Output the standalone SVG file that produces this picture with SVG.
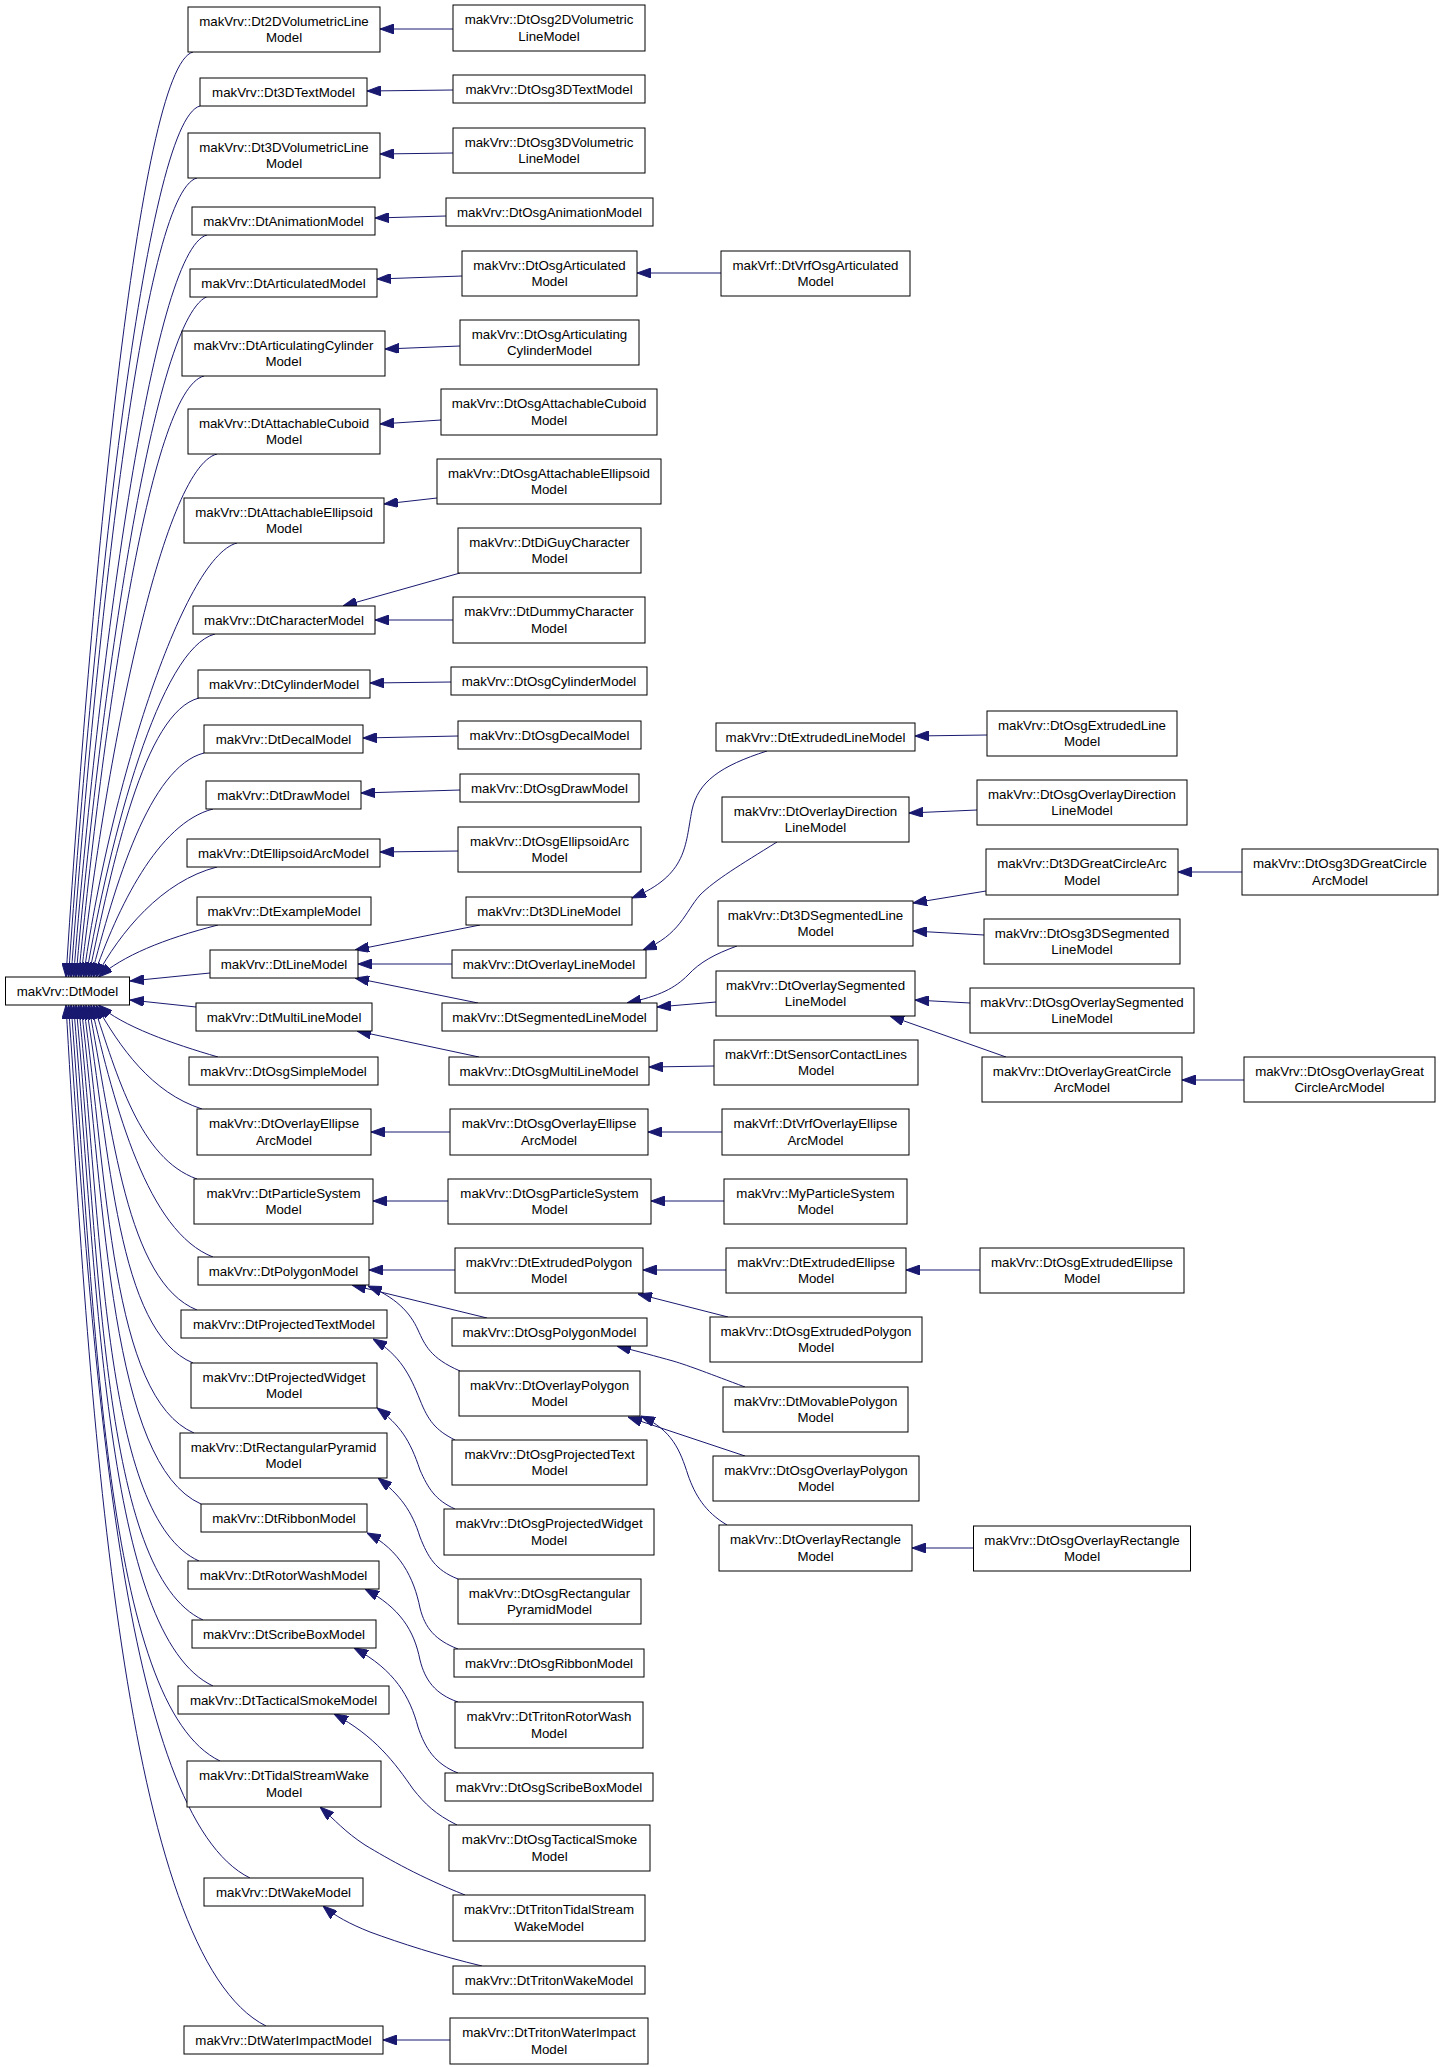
<svg xmlns="http://www.w3.org/2000/svg" width="1445" height="2067" viewBox="0 0 1445 2067">
<style>
.n rect{fill:#fff;stroke:#000;stroke-width:1}
.n text{font-family:"Liberation Sans",Arial,Helvetica,sans-serif;font-size:13.3px;text-anchor:middle;fill:#000}
.e path{fill:none;stroke:#191970;stroke-width:1;marker-end:url(#a)}
</style>
<defs>
<marker id="a" viewBox="0 0 14 10" markerWidth="14" markerHeight="10" markerUnits="userSpaceOnUse" refX="14" refY="5" orient="auto">
<path d="M0,0 L14,5 L0,10 z" fill="#191970" stroke="#191970" stroke-width="1"/>
</marker>
</defs>
<rect width="1445" height="2067" fill="#fff"/>
<g id="edges" class="e">
<path d="M193,52 C138,66 90,598 66,977"/>
<path d="M200,106 C145,120 92.5,620 68.5,977"/>
<path d="M197,178 C142,192 95,649 71,977"/>
<path d="M207,235 C152,249 97.5,673 73.5,977"/>
<path d="M209,296 C154,310 100,698 76,977"/>
<path d="M204,376 C149,390 102.5,731 78.5,977"/>
<path d="M217,454 C162,468 105,763 81,977"/>
<path d="M237,543 C182,557 107.5,799 83.5,977"/>
<path d="M215,634 C160,648 110,836 86,977"/>
<path d="M199,698 C144,712 112.5,863 88.5,977"/>
<path d="M204,753 C149,767 115,885 91,977"/>
<path d="M213,809 C158,823 117.5,908 93.5,977"/>
<path d="M217,867 C162,881 120,932 96,977"/>
<path d="M218,925 C163,939 122.5,956 98.5,977"/>
<path d="M266,2026 C124,1955 90,1424 66,1005"/>
<path d="M250,1878 C122.7,1815.6 92.5,1363 68.5,1005"/>
<path d="M220,1761 C104.4,1705.6 95,1315 71,1005"/>
<path d="M213,1686 C104.9,1635.1 97.5,1284 73.5,1005"/>
<path d="M203,1620 C101.5,1573.1 100,1257 76,1005"/>
<path d="M199,1561 C103.4,1517.6 102.5,1233 78.5,1005"/>
<path d="M201,1504 C111.1,1464.1 105,1209.6 81,1005"/>
<path d="M194,1433 C111.2,1397.3 107.5,1180.5 83.5,1005"/>
<path d="M193,1363 C117.2,1331.5 110,1151.8 86,1005"/>
<path d="M197,1310 C126.5,1281.7 112.5,1130 88.5,1005"/>
<path d="M213,1257 C147.8,1231.9 115,1108.3 91,1005"/>
<path d="M197,1179 C139.6,1158.6 117.5,1076.3 93.5,1005"/>
<path d="M202,1109 C151.6,1092.8 120,1047.6 96,1005"/>
<path d="M218,1057 C172.8,1043.9 122.5,1026.3 98.5,1005"/>
<path d="M210,973 L130,981"/>
<path d="M196,1007 L130,1000"/>
<path d="M453,29 L380,29"/>
<path d="M453,90 L367,91"/>
<path d="M453,153 L380,154"/>
<path d="M446,216 L375,218"/>
<path d="M462,276 L377,279"/>
<path d="M721,273 L637,273"/>
<path d="M460,346 L385,349"/>
<path d="M441,420 L380,424"/>
<path d="M437,498 L384,504"/>
<path d="M460,573 L343,606"/>
<path d="M453,620 L375,620"/>
<path d="M451,682 L370,683"/>
<path d="M458,736 L363,738"/>
<path d="M460,790 L361,793"/>
<path d="M458,851 L380,852"/>
<path d="M480,925 L355,950"/>
<path d="M452,964 L358,964"/>
<path d="M478,1003 L355,978"/>
<path d="M479,1057 L357,1031"/>
<path d="M767,751 C720,766 698,782 692,810 C685,845 688,875 632,898"/>
<path d="M777,842 C740,865 715,880 700,895 C685,912 680,935 643,950"/>
<path d="M737,946 C715,954 700,962 688,975 C675,988 660,996 627,1003"/>
<path d="M716,1002 L657,1007"/>
<path d="M1006,1057 L890,1016"/>
<path d="M970,1003 L915,1000"/>
<path d="M987,735 L915,736"/>
<path d="M977,810 L909,813"/>
<path d="M986,891 L913,903"/>
<path d="M984,935 L913,931"/>
<path d="M1242,872 L1178,872"/>
<path d="M1244,1080 L1182,1080"/>
<path d="M714,1066 L649,1067"/>
<path d="M450,1132 L371,1132"/>
<path d="M722,1132 L648,1132"/>
<path d="M448,1201 L373,1201"/>
<path d="M724,1201 L651,1201"/>
<path d="M455,1270 L369,1270"/>
<path d="M726,1270 L643,1270"/>
<path d="M980,1270 L906,1270"/>
<path d="M487,1318 L352,1285"/>
<path d="M460,1371 C430,1358 425,1345 418,1330 C410,1312 395,1297 368,1286"/>
<path d="M728,1317 L638,1294"/>
<path d="M745,1387 C710,1374 690,1366 673,1361 C655,1356 640,1352 617,1346"/>
<path d="M745,1456 L628,1417"/>
<path d="M727,1525 C705,1512 695,1495 688,1475 C680,1450 672,1430 641,1416"/>
<path d="M973.5,1548 L912,1548"/>
<path d="M455,1440 C435,1430 428,1420 420,1400 C410,1375 400,1355 373,1339"/>
<path d="M455,1509 C435,1500 428,1488 420,1470 C410,1440 400,1425 377,1408"/>
<path d="M458,1579 C435,1570 428,1557 420,1537 C412,1511 400,1495 378,1478"/>
<path d="M458,1649 C435,1640 425,1628 420,1608 C414,1578 400,1550 367,1533"/>
<path d="M458,1702 C435,1694 425,1680 420,1660 C414,1630 400,1608 365,1589"/>
<path d="M458,1773 C435,1764 425,1748 418,1727 C410,1697 395,1670 354,1648"/>
<path d="M457,1825 C435,1814 425,1804 413,1789 C395,1763 375,1736 334,1714"/>
<path d="M465,1895 C420,1877 390,1860 365,1845 C345,1832 335,1820 320,1807"/>
<path d="M482,1966 C440,1956 400,1943 370,1932 C350,1924 335,1916 323,1906"/>
<path d="M450,2040 L383,2040"/>
</g>
<g id="n0" class="n"><rect x="5.5" y="977" width="124" height="28"/><text x="67.5" y="995.5">makVrv::DtModel</text></g>
<g id="b1" class="n"><rect x="188" y="7" width="192" height="45"/><text x="284" y="25.5">makVrv::Dt2DVolumetricLine</text><text x="284" y="42">Model</text></g>
<g id="b2" class="n"><rect x="200" y="78" width="167" height="28"/><text x="283.5" y="96.5">makVrv::Dt3DTextModel</text></g>
<g id="b3" class="n"><rect x="188" y="133" width="192" height="45"/><text x="284" y="151.5">makVrv::Dt3DVolumetricLine</text><text x="284" y="168">Model</text></g>
<g id="b4" class="n"><rect x="192" y="207" width="183" height="28"/><text x="283.5" y="225.5">makVrv::DtAnimationModel</text></g>
<g id="b5" class="n"><rect x="190" y="269" width="187" height="28"/><text x="283.5" y="287.5">makVrv::DtArticulatedModel</text></g>
<g id="b6" class="n"><rect x="182" y="331" width="203" height="45"/><text x="283.5" y="349.5">makVrv::DtArticulatingCylinder</text><text x="283.5" y="366">Model</text></g>
<g id="b7" class="n"><rect x="188" y="409" width="192" height="45"/><text x="284" y="427.5">makVrv::DtAttachableCuboid</text><text x="284" y="444">Model</text></g>
<g id="b8" class="n"><rect x="184" y="498" width="200" height="45"/><text x="284" y="516.5">makVrv::DtAttachableEllipsoid</text><text x="284" y="533">Model</text></g>
<g id="b9" class="n"><rect x="193" y="606" width="182" height="28"/><text x="284" y="624.5">makVrv::DtCharacterModel</text></g>
<g id="b10" class="n"><rect x="198" y="670" width="172" height="28"/><text x="284" y="688.5">makVrv::DtCylinderModel</text></g>
<g id="b11" class="n"><rect x="204" y="725" width="159" height="28"/><text x="283.5" y="743.5">makVrv::DtDecalModel</text></g>
<g id="b12" class="n"><rect x="206" y="781" width="155" height="28"/><text x="283.5" y="799.5">makVrv::DtDrawModel</text></g>
<g id="b13" class="n"><rect x="187" y="839" width="193" height="28"/><text x="283.5" y="857.5">makVrv::DtEllipsoidArcModel</text></g>
<g id="b14" class="n"><rect x="197" y="897" width="174" height="28"/><text x="284" y="915.5">makVrv::DtExampleModel</text></g>
<g id="b15" class="n"><rect x="210" y="950" width="148" height="28"/><text x="284" y="968.5">makVrv::DtLineModel</text></g>
<g id="b16" class="n"><rect x="196" y="1003" width="176" height="28"/><text x="284" y="1021.5">makVrv::DtMultiLineModel</text></g>
<g id="b17" class="n"><rect x="189" y="1057" width="189" height="28"/><text x="283.5" y="1075.5">makVrv::DtOsgSimpleModel</text></g>
<g id="b18" class="n"><rect x="197" y="1109" width="174" height="46"/><text x="284" y="1128">makVrv::DtOverlayEllipse</text><text x="284" y="1144.5">ArcModel</text></g>
<g id="b19" class="n"><rect x="194" y="1179" width="179" height="45"/><text x="283.5" y="1197.5">makVrv::DtParticleSystem</text><text x="283.5" y="1214">Model</text></g>
<g id="b20" class="n"><rect x="198" y="1257" width="171" height="28"/><text x="283.5" y="1275.5">makVrv::DtPolygonModel</text></g>
<g id="b21" class="n"><rect x="181" y="1310" width="206" height="28"/><text x="284" y="1328.5">makVrv::DtProjectedTextModel</text></g>
<g id="b22" class="n"><rect x="191" y="1363" width="186" height="45"/><text x="284" y="1381.5">makVrv::DtProjectedWidget</text><text x="284" y="1398">Model</text></g>
<g id="b23" class="n"><rect x="180" y="1433" width="207" height="45"/><text x="283.5" y="1451.5">makVrv::DtRectangularPyramid</text><text x="283.5" y="1468">Model</text></g>
<g id="b24" class="n"><rect x="201" y="1504" width="166" height="28"/><text x="284" y="1522.5">makVrv::DtRibbonModel</text></g>
<g id="b25" class="n"><rect x="188" y="1561" width="191" height="28"/><text x="283.5" y="1579.5">makVrv::DtRotorWashModel</text></g>
<g id="b26" class="n"><rect x="192" y="1620" width="184" height="28"/><text x="284" y="1638.5">makVrv::DtScribeBoxModel</text></g>
<g id="b27" class="n"><rect x="178" y="1686" width="211" height="28"/><text x="283.5" y="1704.5">makVrv::DtTacticalSmokeModel</text></g>
<g id="b28" class="n"><rect x="187" y="1761" width="194" height="46"/><text x="284" y="1780">makVrv::DtTidalStreamWake</text><text x="284" y="1796.5">Model</text></g>
<g id="b29" class="n"><rect x="204" y="1878" width="159" height="28"/><text x="283.5" y="1896.5">makVrv::DtWakeModel</text></g>
<g id="b30" class="n"><rect x="184" y="2026" width="199" height="28"/><text x="283.5" y="2044.5">makVrv::DtWaterImpactModel</text></g>
<g id="c1" class="n"><rect x="453" y="5" width="192" height="46"/><text x="549" y="24">makVrv::DtOsg2DVolumetric</text><text x="549" y="40.5">LineModel</text></g>
<g id="c2" class="n"><rect x="453" y="75" width="192" height="28"/><text x="549" y="93.5">makVrv::DtOsg3DTextModel</text></g>
<g id="c3" class="n"><rect x="453" y="128" width="192" height="45"/><text x="549" y="146.5">makVrv::DtOsg3DVolumetric</text><text x="549" y="163">LineModel</text></g>
<g id="c4" class="n"><rect x="446" y="198" width="207" height="28"/><text x="549.5" y="216.5">makVrv::DtOsgAnimationModel</text></g>
<g id="c5" class="n"><rect x="462" y="251" width="175" height="45"/><text x="549.5" y="269.5">makVrv::DtOsgArticulated</text><text x="549.5" y="286">Model</text></g>
<g id="c6" class="n"><rect x="460" y="320" width="179" height="45"/><text x="549.5" y="338.5">makVrv::DtOsgArticulating</text><text x="549.5" y="355">CylinderModel</text></g>
<g id="c7" class="n"><rect x="441" y="389" width="216" height="46"/><text x="549" y="408">makVrv::DtOsgAttachableCuboid</text><text x="549" y="424.5">Model</text></g>
<g id="c8" class="n"><rect x="437" y="459" width="224" height="45"/><text x="549" y="477.5">makVrv::DtOsgAttachableEllipsoid</text><text x="549" y="494">Model</text></g>
<g id="c9" class="n"><rect x="458" y="528" width="183" height="45"/><text x="549.5" y="546.5">makVrv::DtDiGuyCharacter</text><text x="549.5" y="563">Model</text></g>
<g id="c10" class="n"><rect x="453" y="597" width="192" height="46"/><text x="549" y="616">makVrv::DtDummyCharacter</text><text x="549" y="632.5">Model</text></g>
<g id="c11" class="n"><rect x="451" y="667" width="196" height="28"/><text x="549" y="685.5">makVrv::DtOsgCylinderModel</text></g>
<g id="c12" class="n"><rect x="458" y="721" width="183" height="28"/><text x="549.5" y="739.5">makVrv::DtOsgDecalModel</text></g>
<g id="c13" class="n"><rect x="460" y="774" width="179" height="28"/><text x="549.5" y="792.5">makVrv::DtOsgDrawModel</text></g>
<g id="c14" class="n"><rect x="458" y="827" width="183" height="45"/><text x="549.5" y="845.5">makVrv::DtOsgEllipsoidArc</text><text x="549.5" y="862">Model</text></g>
<g id="c15" class="n"><rect x="466" y="897" width="166" height="28"/><text x="549" y="915.5">makVrv::Dt3DLineModel</text></g>
<g id="c16" class="n"><rect x="452" y="950" width="194" height="28"/><text x="549" y="968.5">makVrv::DtOverlayLineModel</text></g>
<g id="c17" class="n"><rect x="442" y="1003" width="215" height="28"/><text x="549.5" y="1021.5">makVrv::DtSegmentedLineModel</text></g>
<g id="c18" class="n"><rect x="449" y="1057" width="200" height="28"/><text x="549" y="1075.5">makVrv::DtOsgMultiLineModel</text></g>
<g id="c19" class="n"><rect x="450" y="1109" width="198" height="46"/><text x="549" y="1128">makVrv::DtOsgOverlayEllipse</text><text x="549" y="1144.5">ArcModel</text></g>
<g id="c20" class="n"><rect x="448" y="1179" width="203" height="45"/><text x="549.5" y="1197.5">makVrv::DtOsgParticleSystem</text><text x="549.5" y="1214">Model</text></g>
<g id="c21" class="n"><rect x="455" y="1248" width="188" height="45"/><text x="549" y="1266.5">makVrv::DtExtrudedPolygon</text><text x="549" y="1283">Model</text></g>
<g id="c22" class="n"><rect x="452" y="1318" width="195" height="28"/><text x="549.5" y="1336.5">makVrv::DtOsgPolygonModel</text></g>
<g id="c23" class="n"><rect x="459" y="1371" width="181" height="45"/><text x="549.5" y="1389.5">makVrv::DtOverlayPolygon</text><text x="549.5" y="1406">Model</text></g>
<g id="c24" class="n"><rect x="452" y="1440" width="195" height="45"/><text x="549.5" y="1458.5">makVrv::DtOsgProjectedText</text><text x="549.5" y="1475">Model</text></g>
<g id="c25" class="n"><rect x="444" y="1509" width="210" height="46"/><text x="549" y="1528">makVrv::DtOsgProjectedWidget</text><text x="549" y="1544.5">Model</text></g>
<g id="c26" class="n"><rect x="458" y="1579" width="183" height="45"/><text x="549.5" y="1597.5">makVrv::DtOsgRectangular</text><text x="549.5" y="1614">PyramidModel</text></g>
<g id="c27" class="n"><rect x="454" y="1649" width="190" height="28"/><text x="549" y="1667.5">makVrv::DtOsgRibbonModel</text></g>
<g id="c28" class="n"><rect x="455" y="1702" width="188" height="46"/><text x="549" y="1721">makVrv::DtTritonRotorWash</text><text x="549" y="1737.5">Model</text></g>
<g id="c29" class="n"><rect x="445" y="1773" width="208" height="28"/><text x="549" y="1791.5">makVrv::DtOsgScribeBoxModel</text></g>
<g id="c30" class="n"><rect x="449" y="1825" width="201" height="46"/><text x="549.5" y="1844">makVrv::DtOsgTacticalSmoke</text><text x="549.5" y="1860.5">Model</text></g>
<g id="c31" class="n"><rect x="453" y="1895" width="192" height="46"/><text x="549" y="1914">makVrv::DtTritonTidalStream</text><text x="549" y="1930.5">WakeModel</text></g>
<g id="c32" class="n"><rect x="453" y="1966" width="192" height="28"/><text x="549" y="1984.5">makVrv::DtTritonWakeModel</text></g>
<g id="c33" class="n"><rect x="450" y="2018" width="198" height="46"/><text x="549" y="2037">makVrv::DtTritonWaterImpact</text><text x="549" y="2053.5">Model</text></g>
<g id="d1" class="n"><rect x="721" y="251" width="189" height="45"/><text x="815.5" y="269.5">makVrf::DtVrfOsgArticulated</text><text x="815.5" y="286">Model</text></g>
<g id="d2" class="n"><rect x="716" y="723" width="199" height="28"/><text x="815.5" y="741.5">makVrv::DtExtrudedLineModel</text></g>
<g id="d3" class="n"><rect x="722" y="797" width="187" height="45"/><text x="815.5" y="815.5">makVrv::DtOverlayDirection</text><text x="815.5" y="832">LineModel</text></g>
<g id="d4" class="n"><rect x="718" y="901" width="195" height="45"/><text x="815.5" y="919.5">makVrv::Dt3DSegmentedLine</text><text x="815.5" y="936">Model</text></g>
<g id="d5" class="n"><rect x="716" y="971" width="199" height="45"/><text x="815.5" y="989.5">makVrv::DtOverlaySegmented</text><text x="815.5" y="1006">LineModel</text></g>
<g id="d6" class="n"><rect x="714" y="1040" width="204" height="45"/><text x="816" y="1058.5">makVrf::DtSensorContactLines</text><text x="816" y="1075">Model</text></g>
<g id="d7" class="n"><rect x="722" y="1109" width="187" height="46"/><text x="815.5" y="1128">makVrf::DtVrfOverlayEllipse</text><text x="815.5" y="1144.5">ArcModel</text></g>
<g id="d8" class="n"><rect x="724" y="1179" width="183" height="45"/><text x="815.5" y="1197.5">makVrv::MyParticleSystem</text><text x="815.5" y="1214">Model</text></g>
<g id="d9" class="n"><rect x="726" y="1248" width="180" height="45"/><text x="816" y="1266.5">makVrv::DtExtrudedEllipse</text><text x="816" y="1283">Model</text></g>
<g id="d10" class="n"><rect x="710" y="1317" width="212" height="45"/><text x="816" y="1335.5">makVrv::DtOsgExtrudedPolygon</text><text x="816" y="1352">Model</text></g>
<g id="d11" class="n"><rect x="723" y="1387" width="185" height="45"/><text x="815.5" y="1405.5">makVrv::DtMovablePolygon</text><text x="815.5" y="1422">Model</text></g>
<g id="d12" class="n"><rect x="713" y="1456" width="206" height="45"/><text x="816" y="1474.5">makVrv::DtOsgOverlayPolygon</text><text x="816" y="1491">Model</text></g>
<g id="d13" class="n"><rect x="719" y="1525" width="193" height="46"/><text x="815.5" y="1544">makVrv::DtOverlayRectangle</text><text x="815.5" y="1560.5">Model</text></g>
<g id="e1" class="n"><rect x="987" y="711" width="190" height="45"/><text x="1082" y="729.5">makVrv::DtOsgExtrudedLine</text><text x="1082" y="746">Model</text></g>
<g id="e2" class="n"><rect x="977" y="780" width="210" height="45"/><text x="1082" y="798.5">makVrv::DtOsgOverlayDirection</text><text x="1082" y="815">LineModel</text></g>
<g id="e3" class="n"><rect x="986" y="849" width="192" height="46"/><text x="1082" y="868">makVrv::Dt3DGreatCircleArc</text><text x="1082" y="884.5">Model</text></g>
<g id="e4" class="n"><rect x="984" y="919" width="196" height="45"/><text x="1082" y="937.5">makVrv::DtOsg3DSegmented</text><text x="1082" y="954">LineModel</text></g>
<g id="e5" class="n"><rect x="970" y="988" width="224" height="45"/><text x="1082" y="1006.5">makVrv::DtOsgOverlaySegmented</text><text x="1082" y="1023">LineModel</text></g>
<g id="e6" class="n"><rect x="982" y="1057" width="200" height="45"/><text x="1082" y="1075.5">makVrv::DtOverlayGreatCircle</text><text x="1082" y="1092">ArcModel</text></g>
<g id="e7" class="n"><rect x="980" y="1248" width="204" height="45"/><text x="1082" y="1266.5">makVrv::DtOsgExtrudedEllipse</text><text x="1082" y="1283">Model</text></g>
<g id="e8" class="n"><rect x="973.5" y="1526" width="217" height="45"/><text x="1082" y="1544.5">makVrv::DtOsgOverlayRectangle</text><text x="1082" y="1561">Model</text></g>
<g id="f1" class="n"><rect x="1242" y="849" width="196" height="46"/><text x="1340" y="868">makVrv::DtOsg3DGreatCircle</text><text x="1340" y="884.5">ArcModel</text></g>
<g id="f2" class="n"><rect x="1244" y="1057" width="191" height="45"/><text x="1339.5" y="1075.5">makVrv::DtOsgOverlayGreat</text><text x="1339.5" y="1092">CircleArcModel</text></g>
</svg>
